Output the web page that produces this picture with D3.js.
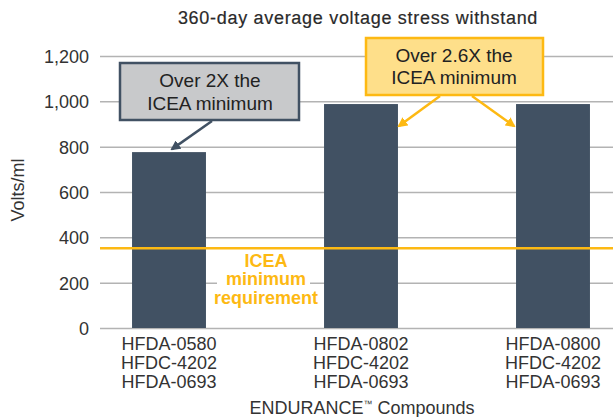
<!DOCTYPE html>
<html>
<head>
<meta charset="utf-8">
<script src="https://cdn.jsdelivr.net/npm/d3@7"></script>
<style>
  body { margin: 0; background: #fff; }
  svg text { font-family: "Liberation Sans", Arial, sans-serif; }
</style>
</head>
<body>
<svg id="chart" width="613" height="417"></svg>
<script>
// compounds on the x axis, each label is three lines
var compounds = ["A", "B", "C"];
var compoundLabels = [
    ["HFDA-0580", "HFDC-4202", "HFDA-0693"],
    ["HFDA-0802", "HFDC-4202", "HFDA-0693"],
    ["HFDA-0800", "HFDC-4202", "HFDA-0693"]
];
var voltsValues = [776, 988, 988];
var yTicks = [0, 200, 400, 600, 800, 1000, 1200];
var iceaMinimum = 352;

var svg = d3.select("#chart");

var x = d3.scaleBand()
    .domain(compounds)
    .range([73, 649])
    .paddingInner(0.615)
    .paddingOuter(0.3075);

var y = d3.scaleLinear()
    .domain([0, 1200])
    .range([328, 56]);

var gridColor = "#b3b3b3";
var barColor = "#415163";
var gold = "#fdb913";
var textColor = "#333";

// title
svg.append("text")
    .attr("x", 358)
    .attr("y", 24)
    .attr("text-anchor", "middle")
    .style("font-size", "18px")
    .style("letter-spacing", "0.7px")
    .style("fill", "#2a2a2a")
    .style("stroke", "#2a2a2a")
    .style("stroke-width", "0.2px")
    .text("360-day average voltage stress withstand");

// y axis with grid lines
var yAxis = d3.axisLeft(y)
    .tickValues(yTicks)
    .tickSize(-513)
    .tickPadding(11)
    .tickFormat(d3.format(","));

var gy = svg.append("g")
    .attr("transform", "translate(100,0)")
    .call(yAxis);
gy.select(".domain").remove();
gy.selectAll(".tick line")
    .attr("stroke", gridColor)
    .attr("stroke-width", 1.5);
gy.selectAll(".tick text")
    .style("font-size", "18px")
    .style("fill", textColor)
    .attr("dy", "0.36em");

// y axis title
svg.append("text")
    .attr("transform", "translate(24,190) rotate(-90)")
    .attr("text-anchor", "middle")
    .style("font-size", "18px")
    .style("fill", textColor)
    .text("Volts/ml");

// bars
svg.append("g")
    .selectAll("rect")
    .data(voltsValues)
    .enter()
    .append("rect")
    .attr("x", (d, i) => x(compounds[i]))
    .attr("y", d => y(d))
    .attr("width", x.bandwidth())
    .attr("height", d => y(0) - y(d))
    .attr("fill", barColor);

// ICEA minimum line
svg.append("line")
    .attr("x1", 100)
    .attr("x2", 613)
    .attr("y1", y(iceaMinimum))
    .attr("y2", y(iceaMinimum))
    .attr("stroke", gold)
    .attr("stroke-width", 2.5);

// ICEA label with white background breaking the 200 grid line
svg.append("rect")
    .attr("x", 217)
    .attr("y", 270)
    .attr("width", 93)
    .attr("height", 24)
    .attr("fill", "#fff");

var iceaLines = ["ICEA", "minimum", "requirement"];
svg.append("text")
    .attr("x", 266)
    .attr("y", 267)
    .attr("text-anchor", "middle")
    .style("font-size", "18px")
    .style("font-weight", "bold")
    .style("fill", gold)
    .selectAll("tspan")
    .data(iceaLines)
    .enter()
    .append("tspan")
    .attr("x", 266)
    .attr("dy", (d, i) => i == 0 ? 0 : 18.3)
    .text(d => d);

// x labels
var xLabels = svg.append("g");
compoundLabels.forEach(function(lines, i) {
    var cx = x(compounds[i]) + x.bandwidth() / 2;
    xLabels.append("text")
        .attr("x", cx)
        .attr("y", 350)
        .attr("text-anchor", "middle")
        .style("font-size", "18px")
        .style("fill", textColor)
        .selectAll("tspan")
        .data(lines)
        .enter()
        .append("tspan")
        .attr("x", cx)
        .attr("dy", (d, j) => j == 0 ? 0 : 19)
        .text(d => d);
});

// x axis title
svg.append("text")
    .attr("x", 362)
    .attr("y", 414)
    .attr("text-anchor", "middle")
    .style("font-size", "18px")
    .style("fill", textColor)
    .html("ENDURANCE<tspan dy='-7' style='font-size:9px'>™</tspan><tspan dy='7'> Compounds</tspan>");

// arrow markers
var defs = svg.append("defs");
function addMarker(id, color) {
    defs.append("marker")
        .attr("id", id)
        .attr("viewBox", "0 0 10 10")
        .attr("refX", 8)
        .attr("refY", 5)
        .attr("markerWidth", 4)
        .attr("markerHeight", 4)
        .attr("orient", "auto")
        .append("path")
        .attr("d", "M0,0 L10,5 L0,10 z")
        .attr("fill", color);
}
addMarker("arrowGray", barColor);
addMarker("arrowGold", gold);

// callout 1 (gray)
var barTop0 = y(voltsValues[0]);
var cx0 = x(compounds[0]) + x.bandwidth() / 2;
svg.append("line")
    .attr("x1", 212).attr("y1", 121)
    .attr("x2", cx0 + 3).attr("y2", barTop0 - 3)
    .attr("stroke", barColor)
    .attr("stroke-width", 2.5)
    .attr("marker-end", "url(#arrowGray)");
svg.append("rect")
    .attr("x", 120).attr("y", 63)
    .attr("width", 179).attr("height", 57)
    .attr("fill", "#c8c9cb")
    .attr("stroke", barColor)
    .attr("stroke-width", 2.5);
svg.append("text")
    .attr("x", 210)
    .attr("y", 87)
    .attr("text-anchor", "middle")
    .style("font-size", "19px")
    .style("fill", "#222")
    .selectAll("tspan")
    .data(["Over 2X the", "ICEA minimum"])
    .enter()
    .append("tspan")
    .attr("x", 210)
    .attr("dy", (d, i) => i == 0 ? 0 : 23)
    .text(d => d);

// callout 2 (gold)
var barRight1 = x(compounds[1]) + x.bandwidth();
var barLeft2 = x(compounds[2]);
svg.append("line")
    .attr("x1", 440).attr("y1", 96)
    .attr("x2", barRight1 + 1).attr("y2", y(voltsValues[1]) + 22)
    .attr("stroke", gold)
    .attr("stroke-width", 2.5)
    .attr("marker-end", "url(#arrowGold)");
svg.append("line")
    .attr("x1", 472).attr("y1", 96)
    .attr("x2", barLeft2 - 2).attr("y2", y(voltsValues[2]) + 22)
    .attr("stroke", gold)
    .attr("stroke-width", 2.5)
    .attr("marker-end", "url(#arrowGold)");
svg.append("rect")
    .attr("x", 366).attr("y", 38)
    .attr("width", 177).attr("height", 57)
    .attr("fill", "#fedf8a")
    .attr("stroke", gold)
    .attr("stroke-width", 2.5);
svg.append("text")
    .attr("x", 454)
    .attr("y", 62)
    .attr("text-anchor", "middle")
    .style("font-size", "19px")
    .style("fill", "#222")
    .selectAll("tspan")
    .data(["Over 2.6X the", "ICEA minimum"])
    .enter()
    .append("tspan")
    .attr("x", 454)
    .attr("dy", (d, i) => i == 0 ? 0 : 22)
    .text(d => d);
</script>
</body>
</html>
